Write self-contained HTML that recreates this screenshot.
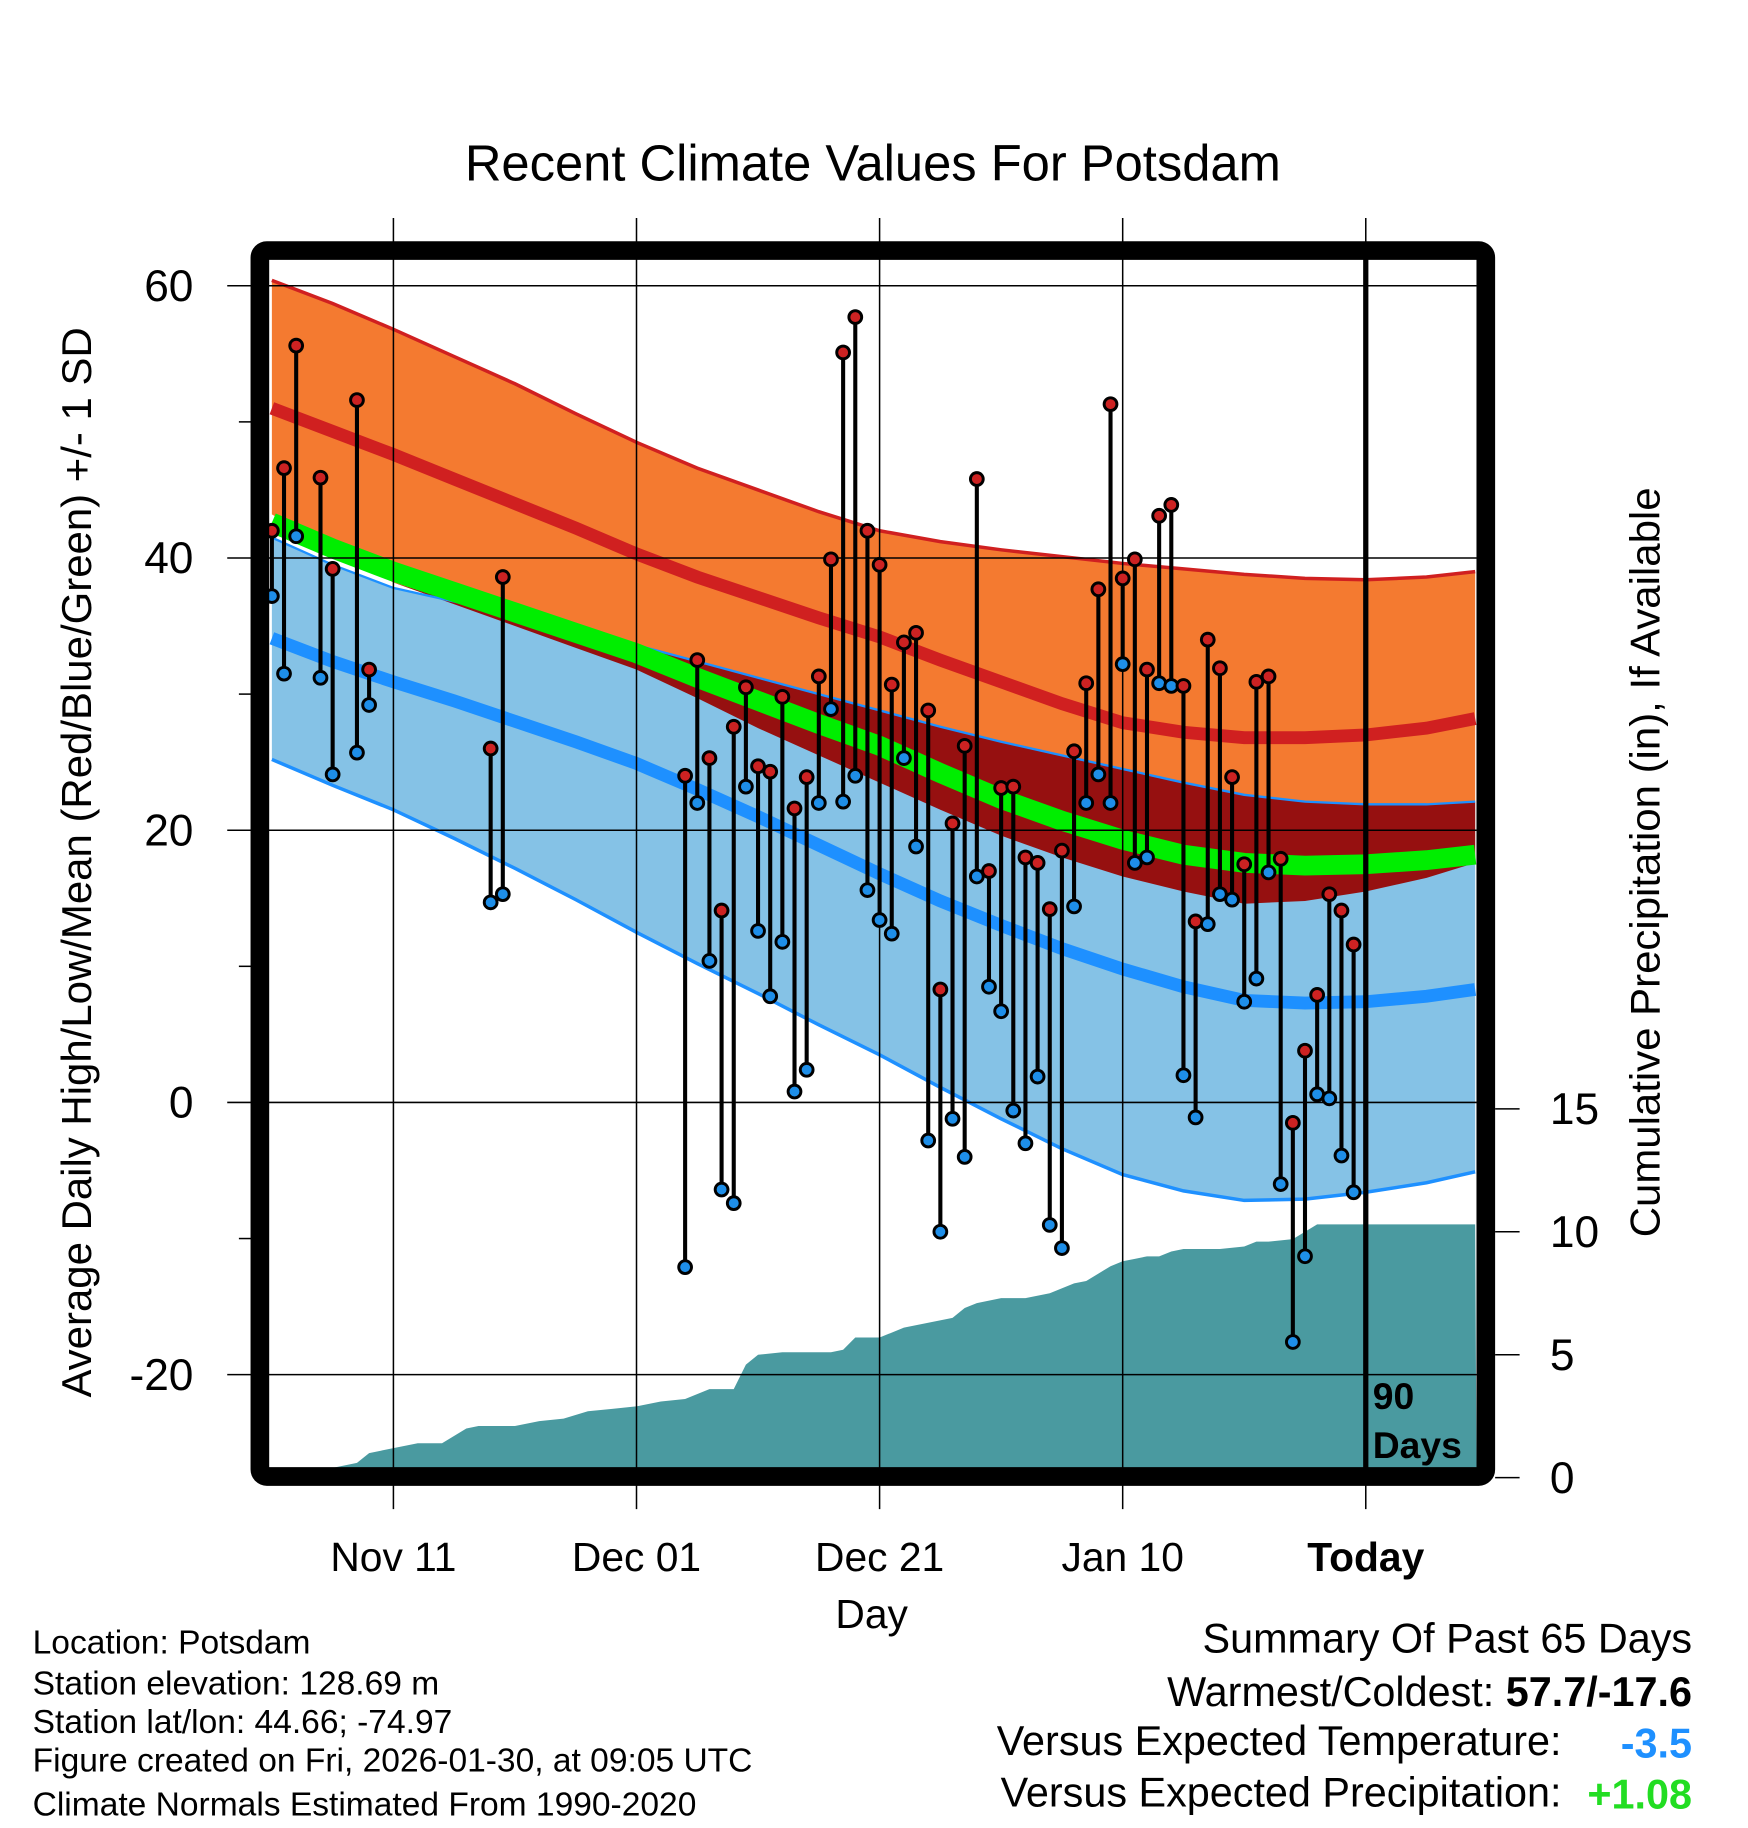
<!DOCTYPE html>
<html><head><meta charset="utf-8"><style>
html,body{margin:0;padding:0;background:#fff}
svg{display:block}
text{font-family:"Liberation Sans",sans-serif}
</style></head><body>
<svg id="chart" width="1748" height="1828" viewBox="0 0 1500 1568.6" xmlns="http://www.w3.org/2000/svg">
<text x="749" y="155" font-size="43.5" text-anchor="middle">Recent Climate Values For Potsdam</text>
<g id="bands"></g><g id="precip"></g><g id="grid"></g><g id="marks"></g><g id="frame"></g><g id="labels"></g>
<text transform="translate(78,740) rotate(-90)" font-size="36" text-anchor="middle">Average Daily High/Low/Mean (Red/Blue/Green) +/- 1 SD</text>
<text transform="translate(1424,740) rotate(-90)" font-size="36" text-anchor="middle">Cumulative Precipitation (in), If Available</text>
<text x="748" y="1397" font-size="35" text-anchor="middle">Day</text>
<g font-size="28.8">
<text x="28" y="1419">Location: Potsdam</text>
<text x="28" y="1454">Station elevation: 128.69 m</text>
<text x="28" y="1487">Station lat/lon: 44.66; -74.97</text>
<text x="28" y="1520">Figure created on Fri, 2026-01-30, at 09:05 UTC</text>
<text x="28" y="1558">Climate Normals Estimated From 1990-2020</text>
</g>
<g font-size="35.5">
<text x="1452" y="1418" text-anchor="end">Summary Of Past 65 Days</text>
<text x="1452" y="1464" text-anchor="end">Warmest/Coldest: <tspan font-weight="bold">57.7/-17.6</tspan></text>
<text x="1340" y="1506" text-anchor="end">Versus Expected Temperature:</text>
<text x="1452" y="1508" text-anchor="end" font-weight="bold" fill="#1E90FF">-3.5</text>
<text x="1340" y="1550" text-anchor="end">Versus Expected Precipitation:</text>
<text x="1452" y="1552" text-anchor="end" font-weight="bold" fill="#22DD22">+1.08</text>
</g>
</svg>
<script>
const days=[-90,-89,-88,-86,-85,-83,-82,-72,-71,-56,-55,-54,-53,-52,-51,-50,-49,-48,-47,-46,-45,-44,-43,-42,-41,-40,-39,-38,-37,-36,-35,-34,-33,-32,-31,-30,-29,-28,-27,-26,-25,-24,-23,-22,-21,-20,-19,-18,-17,-16,-15,-14,-13,-12,-11,-10,-9,-8,-7,-6,-5,-4,-3,-2,-1];
const highs=[42.0,46.6,55.6,45.9,39.2,51.6,31.8,26.0,38.6,24.0,32.5,25.3,14.1,27.6,30.5,24.7,24.3,29.8,21.6,23.9,31.3,39.9,55.1,57.7,42.0,39.5,30.7,33.8,34.5,28.8,8.3,20.5,26.2,45.8,17.0,23.1,23.2,18.0,17.6,14.2,18.5,25.8,30.8,37.7,51.3,38.5,39.9,31.8,43.1,43.9,30.6,13.3,34.0,31.9,23.9,17.5,30.9,31.3,17.9,-1.5,3.8,7.9,15.3,14.1,11.6];
const lows=[37.2,31.5,41.6,31.2,24.1,25.7,29.2,14.7,15.3,-12.1,22.0,10.4,-6.4,-7.4,23.2,12.6,7.8,11.8,0.8,2.4,22.0,28.9,22.1,24.0,15.6,13.4,12.4,25.3,18.8,-2.8,-9.5,-1.2,-4.0,16.6,8.5,6.7,-0.6,-3.0,1.9,-9.0,-10.7,14.4,22.0,24.1,22.0,32.2,17.6,18.0,30.8,30.6,2.0,-1.1,13.1,15.3,14.9,7.4,9.1,16.9,-6.0,-17.6,-11.3,0.6,0.3,-3.9,-6.6];
const normDays=[-90,-85,-80,-75,-70,-65,-60,-55,-50,-45,-40,-35,-30,-25,-20,-15,-10,-5,0,5,9];
const highPlusSD=[60.4,58.7,56.8,54.8,52.8,50.6,48.5,46.6,45.0,43.4,42.0,41.2,40.6,40.1,39.6,39.2,38.8,38.5,38.4,38.6,39.0];
const meanHigh=[51.0,49.3,47.6,45.8,44.0,42.2,40.3,38.6,37.1,35.6,34.2,32.5,30.9,29.3,27.9,27.2,26.8,26.8,27.0,27.5,28.2];
const highMinusSD=[43.2,40.6,38.2,36.6,35.0,33.4,31.8,29.7,27.5,25.5,23.5,21.5,19.6,18.0,16.6,15.5,14.6,14.8,15.5,16.5,17.6];
const meanTemp=[42.6,40.7,39.0,37.5,36.0,34.5,33.0,31.2,29.5,27.8,26.2,24.2,22.3,20.7,19.3,18.2,17.6,17.4,17.5,17.8,18.2];
const lowPlusSD=[41.5,39.5,37.8,36.8,35.8,34.7,33.6,32.4,31.2,30.0,28.8,27.6,26.5,25.5,24.5,23.5,22.6,22.1,21.9,21.9,22.1];
const meanLow=[34.1,32.4,30.9,29.5,28.0,26.5,24.9,23.0,21.0,18.9,16.8,14.8,13.0,11.3,9.8,8.5,7.5,7.3,7.4,7.8,8.3];
const lowMinusSD=[25.2,23.3,21.5,19.4,17.2,14.9,12.5,10.2,8.0,5.7,3.5,1.1,-1.2,-3.4,-5.3,-6.5,-7.2,-7.1,-6.6,-5.9,-5.1];
const precipDays=[-90,-86,-85,-84,-83,-82,-80,-78,-76,-74,-73,-70,-68,-66,-64,-62,-60,-58,-56,-54,-52,-51,-50,-48,-46,-44,-43,-42,-40,-38,-36,-34,-33,-32,-30,-28,-26,-24,-23,-22,-21,-20,-19,-18,-17,-16,-15,-14,-12,-10,-9,-8,-6,-5,-4,-3,-2,0,9];
const precipVals=[0,0.2,0.4,0.5,0.6,1.0,1.2,1.4,1.4,2.0,2.1,2.1,2.3,2.4,2.7,2.8,2.9,3.1,3.2,3.6,3.6,4.6,5.0,5.1,5.1,5.1,5.2,5.7,5.7,6.1,6.3,6.5,6.9,7.1,7.3,7.3,7.5,7.9,8.0,8.3,8.6,8.8,8.9,9.0,9.0,9.2,9.3,9.3,9.3,9.4,9.6,9.6,9.7,10.0,10.3,10.3,10.3,10.3,10.3];
const yTicks=[60,40,20,0,-20];
const yMinor=[50,30,10,-10];
const pTicks=[0,5,10,15];
const xTickDays=[-80,-60,-40,-20,0];
const xTickLabels=["Nov 11","Dec 01","Dec 21","Jan 10","Today"];

const NS="http://www.w3.org/2000/svg";
const L=231,R=1267,T=222,B=1260;
const x=d=>1172+d*10.43;
const y=v=>946-v*11.68;
const py=p=>1268-p*21.1;
function el(tag,attrs,parent){const e=document.createElementNS(NS,tag);for(const k in attrs)e.setAttribute(k,attrs[k]);parent.appendChild(e);return e;}
const bands=document.getElementById('bands'),grid=document.getElementById('grid'),marks=document.getElementById('marks'),frame=document.getElementById('frame'),labels=document.getElementById('labels'),precip=document.getElementById('precip');
function cx(d){return Math.max(L,Math.min(R,x(d)));}
function line(arr){return normDays.map((d,i)=>cx(d)+','+y(arr[i])).join(' ');}
function band(top,bot){return normDays.map((d,i)=>cx(d)+','+y(top[i])).join(' ')+' '+normDays.slice().reverse().map((d,i)=>{const j=normDays.length-1-i;return cx(d)+','+y(bot[j]);}).join(' ');}
let e;
e=el('polygon',{points:band(highPlusSD,highMinusSD),fill:'#F47A30'},bands);

e=el('polygon',{points:band(lowPlusSD,lowMinusSD),fill:'#85C2E6'},bands);

const ovTop=lowPlusSD.map((v,i)=>Math.max(v,highMinusSD[i]));
e=el('polygon',{points:band(ovTop,highMinusSD),fill:'#961010'},bands);

e=el('polyline',{points:line(highPlusSD),fill:'none',stroke:'#D02020',"stroke-width":3},bands);

e=el('polyline',{points:line(lowPlusSD),fill:'none',stroke:'#1E90FF',"stroke-width":2},bands);

e=el('polyline',{points:line(lowMinusSD),fill:'none',stroke:'#1E90FF',"stroke-width":3},bands);

e=el('polyline',{points:line(meanHigh),fill:'none',stroke:'#D02020',"stroke-width":11},bands);

e=el('polyline',{points:line(meanLow),fill:'none',stroke:'#1E90FF',"stroke-width":11},bands);

e=el('polyline',{points:line(meanTemp),fill:'none',stroke:'#00EE00',"stroke-width":17},bands);

let pp=precipDays.map((d,i)=>cx(d)+','+Math.max(py(precipVals[i]),T)).join(' ');
pp+=' '+R+','+B+' '+L+','+B;
e=el('polygon',{points:pp,fill:'#4A9AA0'},precip);

yTicks.forEach(v=>{
 e=el('line',{x1:195,x2:R,y1:y(v),y2:y(v),stroke:'#000',"stroke-width":1.3},grid);
 
 e=el('text',{x:166,y:y(v)+13,"font-size":38,"text-anchor":"end"},labels);e.textContent=v;
 
});
yMinor.forEach(v=>{
 e=el('line',{x1:205,x2:218,y1:y(v),y2:y(v),stroke:'#000',"stroke-width":1.3},grid);
 
});
xTickDays.forEach((d,i)=>{
 e=el('line',{x1:x(d),x2:x(d),y1:187,y2:1295,stroke:'#000',"stroke-width":1.3},grid);
 
 e=el('text',{x:x(d),y:1348,"font-size":35,"text-anchor":"middle","font-weight":d===0?"bold":"normal"},labels);e.textContent=xTickLabels[i];
 
});
pTicks.forEach(p=>{
 e=el('line',{x1:1283,x2:1304,y1:py(p),y2:py(p),stroke:'#000',"stroke-width":1.3},grid);
 
 e=el('text',{x:1330,y:py(p)+13,"font-size":38},labels);e.textContent=p;
 
});
e=el('line',{x1:x(0),x2:x(0),y1:T-8,y2:B+8,stroke:'#000',"stroke-width":4.5},grid);

days.forEach((d,i)=>{
 e=el('line',{x1:x(d),x2:x(d),y1:y(highs[i]),y2:y(lows[i]),stroke:'#000',"stroke-width":3.5},marks);
 
 e=el('circle',{cx:x(d),cy:y(lows[i]),r:5.5,fill:'#1E8EE8',stroke:'#000',"stroke-width":2.5},marks);
 
 e=el('circle',{cx:x(d),cy:y(highs[i]),r:5.5,fill:'#CC2222',stroke:'#000',"stroke-width":2.5},marks);
 
});
e=el('rect',{x:223,y:215,width:1052,height:1052,rx:6,fill:'none',stroke:'#000',"stroke-width":16},frame);

e=el('text',{x:1178,y:1209,"font-size":32,"font-weight":"bold"},labels);e.textContent='90';

e=el('text',{x:1178,y:1251,"font-size":32,"font-weight":"bold"},labels);e.textContent='Days';

</script>
</body></html>
